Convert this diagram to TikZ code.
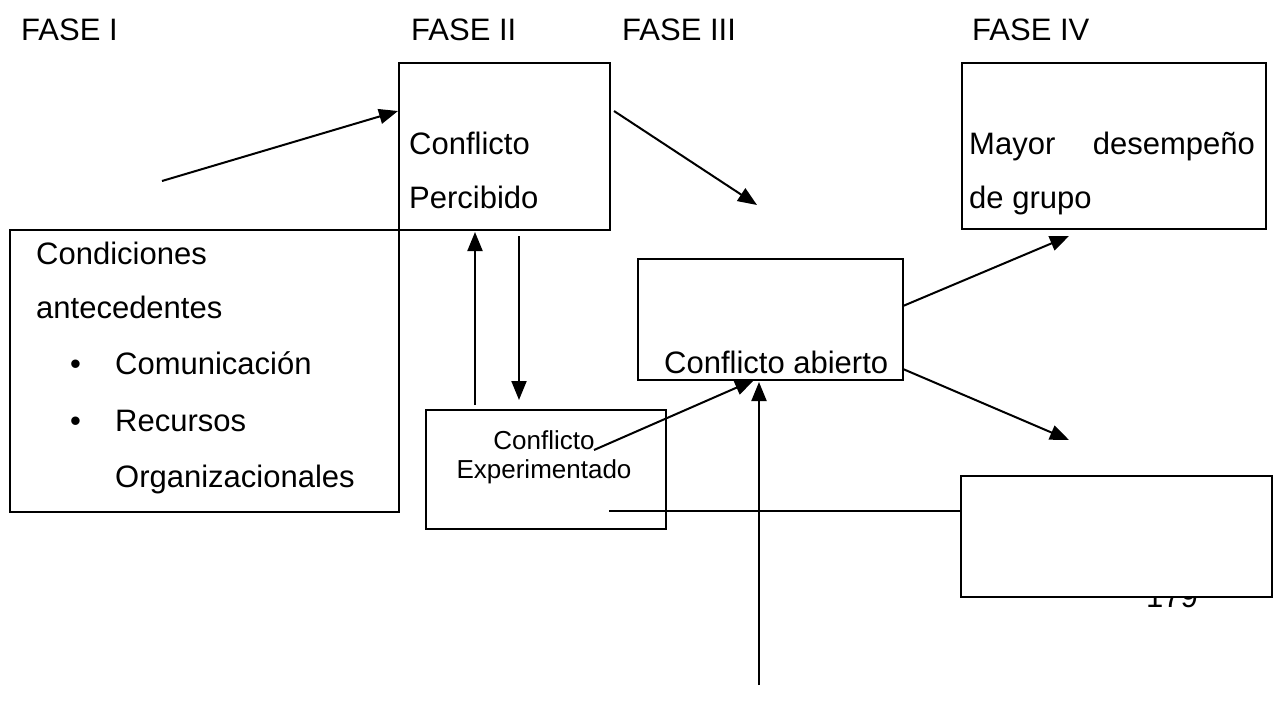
\documentclass[tikz,border=0pt]{standalone}
\usepackage{fontspec}
\setmainfont{Liberation Sans}
\usetikzlibrary{arrows.meta}
\begin{document}
\begin{tikzpicture}[x=1pt,y=-1pt,
  big/.style={font=\fontsize{31}{36}\selectfont,inner sep=0pt,anchor=base west},
  small/.style={font=\fontsize{26}{30}\selectfont,inner sep=0pt,anchor=base},
  boxx/.style={draw=black,line width=2.2pt,fill=white},
  conn/.style={line width=2pt,-{Triangle[length=19pt,width=15pt]}},
  plain/.style={line width=2.2pt}]
\useasboundingbox (0,0) rectangle (1274,707);
% phase labels
\node[big] (f1) at (21,40) {FASE I};
\node[big] (f2) at (411,40) {FASE II};
\node[big] (f3) at (622,40) {FASE III};
\node[big] (f4) at (972,40) {FASE IV};
% boxes
\draw[boxx] (399,63) rectangle (610,230) coordinate[pos=0.5] (perc);
\draw[boxx] (10,230) rectangle (399,512) coordinate[pos=0.5] (cond);
\draw[boxx] (962,63) rectangle (1266,229) coordinate[pos=0.5] (mayor);
\draw[boxx] (638,259) rectangle (903,380) coordinate[pos=0.5] (abierto);
\draw[boxx] (426,410) rectangle (666,529) coordinate[pos=0.5] (exper);
% page number partly hidden behind the last box
\node[big] (pagenum) at (1146,607) {179};
\draw[boxx] (961,476) rectangle (1272,597) coordinate[pos=0.5] (blank);
% texts
\node[big] (t1) at (409,154) {Conflicto};
\node[big] (t2) at (409,208) {Percibido};
\node[big] (t3) at (36,264) {Condiciones};
\node[big] (t4) at (36,318) {antecedentes};
\node[big] (b1) at (70,374) {•};
\node[big] (t5) at (115,374) {Comunicación};
\node[big] (b2) at (70,431) {•};
\node[big] (t6) at (115,431) {Recursos};
\node[big] (t7) at (115,487) {Organizacionales};
\node[big] (t8) at (969,154) {Mayor};
\node[big,anchor=base east] (t9) at (1255,154) {desempeño};
\node[big] (t10) at (969,208) {de grupo};
\node[big] (t11) at (664,373) {Conflicto abierto};
\node[small] (t12) at (544,449) {Conflicto};
\node[small] (t13) at (544,478) {Experimentado};
% connector endpoints
\coordinate (a1s) at (162,181); \coordinate (a1e) at (398,111);
\coordinate (a2s) at (614,111); \coordinate (a2e) at (757,205);
\coordinate (a3s) at (475,405); \coordinate (a3e) at (475,232);
\coordinate (a4s) at (519,236); \coordinate (a4e) at (519,400);
\coordinate (a5s) at (594,450); \coordinate (a5e) at (754,380);
\coordinate (a6s) at (759,685); \coordinate (a6e) at (759,382);
\coordinate (a7s) at (903,306); \coordinate (a7e) at (1069,236);
\coordinate (a8s) at (903,369); \coordinate (a8e) at (1069,440);
\coordinate (l1s) at (609,511); \coordinate (l1e) at (961,511);
% connectors
\draw[conn] (a1s) -- (a1e);
\draw[conn] (a2s) -- (a2e);
\draw[conn] (a3s) -- (a3e);
\draw[conn] (a4s) -- (a4e);
\draw[conn] (a5s) -- (a5e);
\draw[conn] (a6s) -- (a6e);
\draw[conn] (a7s) -- (a7e);
\draw[conn] (a8s) -- (a8e);
\draw[plain] (l1s) -- (l1e);
\end{tikzpicture}
\end{document}
